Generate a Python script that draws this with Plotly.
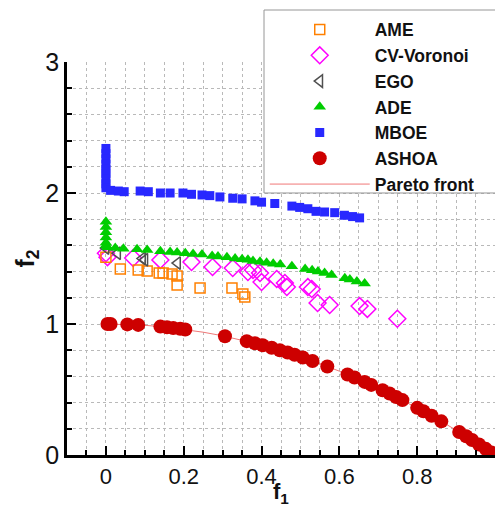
import plotly.graph_objects as go

# ---- data: objective pairs (f1, f2) per algorithm ----
ame_f1 = [0.0, 0.037, 0.083, 0.106, 0.137, 0.147, 0.17, 0.183, 0.183, 0.242, 0.324, 0.352, 0.357]
ame_f2 = [1.51, 1.42, 1.412, 1.405, 1.389, 1.389, 1.382, 1.366, 1.298, 1.275, 1.275, 1.229, 1.206]

cvv_f1 = [0.0, 0.004, 0.07, 0.14, 0.22, 0.274, 0.326, 0.365, 0.378, 0.396, 0.40, 0.439,
          0.46, 0.465, 0.519, 0.529, 0.544, 0.575, 0.652, 0.672, 0.749]
cvv_f2 = [1.54, 1.51, 1.504, 1.489, 1.473, 1.435, 1.427, 1.397, 1.412, 1.389, 1.32, 1.344,
          1.313, 1.282, 1.282, 1.267, 1.16, 1.145, 1.137, 1.115, 1.04]

ego_f1 = [0.0, 0.03, 0.094, 0.10, 0.184]
ego_f2 = [1.58, 1.54, 1.50, 1.49, 1.465]

ade_f1 = [0.0, 0.0, 0.0, 0.0, 0.0, 0.0, 0.004, 0.024, 0.045, 0.08, 0.106, 0.14, 0.165, 0.183,
          0.204, 0.224, 0.247, 0.273, 0.288, 0.311, 0.332, 0.35, 0.365, 0.378, 0.396, 0.413,
          0.43, 0.448, 0.478, 0.512, 0.53, 0.545, 0.562, 0.58, 0.614, 0.627, 0.645, 0.665]
ade_f2 = [1.78, 1.74, 1.70, 1.66, 1.62, 1.60, 1.585, 1.58, 1.575, 1.57, 1.565, 1.555, 1.55, 1.545,
          1.54, 1.535, 1.53, 1.52, 1.515, 1.51, 1.50, 1.495, 1.49, 1.48, 1.475, 1.468,
          1.46, 1.455, 1.44, 1.42, 1.41, 1.40, 1.39, 1.375, 1.35, 1.34, 1.325, 1.31]

mboe_f1 = [0.0, 0.0, 0.0, 0.0, 0.0, 0.0, 0.0, 0.0, 0.0, 0.012, 0.032, 0.047, 0.088, 0.109,
           0.14, 0.165, 0.198, 0.22, 0.247, 0.267, 0.293, 0.326, 0.35, 0.383, 0.40, 0.434,
           0.478, 0.498, 0.519, 0.54, 0.562, 0.588, 0.613, 0.634, 0.652]
mboe_f2 = [2.34, 2.30, 2.26, 2.22, 2.18, 2.15, 2.11, 2.07, 2.04, 2.02, 2.015, 2.01, 2.015, 2.01,
           2.0, 2.0, 2.0, 1.99, 1.985, 1.98, 1.97, 1.96, 1.955, 1.94, 1.93, 1.92,
           1.90, 1.89, 1.88, 1.86, 1.855, 1.85, 1.83, 1.82, 1.81]

ashoa_f1 = [0.004, 0.012, 0.055, 0.083, 0.14, 0.157, 0.173, 0.191, 0.204, 0.306, 0.362, 0.383,
            0.403, 0.426, 0.447, 0.467, 0.485, 0.506, 0.531, 0.569, 0.621, 0.639, 0.665, 0.682,
            0.711, 0.729, 0.746, 0.762, 0.80, 0.816, 0.837, 0.862, 0.908, 0.926, 0.941, 0.959,
            0.976, 0.99, 1.0]
ashoa_f2 = [1.0, 1.0, 0.997, 0.993, 0.98, 0.975, 0.97, 0.963, 0.958, 0.906, 0.869, 0.853,
            0.838, 0.819, 0.80, 0.782, 0.765, 0.744, 0.718, 0.676, 0.614, 0.592, 0.558, 0.535,
            0.494, 0.469, 0.443, 0.419, 0.36, 0.334, 0.30, 0.257, 0.176, 0.143, 0.115, 0.08,
            0.047, 0.02, 0.0]

pf_f1 = [0.0, 0.05, 0.1, 0.15, 0.2, 0.25, 0.3, 0.35, 0.4, 0.45, 0.5, 0.55, 0.6, 0.65, 0.7,
         0.75, 0.8, 0.85, 0.9, 0.95, 1.0]
pf_f2 = [1.0, 0.9975, 0.99, 0.9775, 0.96, 0.9375, 0.91, 0.8775, 0.84, 0.7975, 0.75, 0.6975,
         0.64, 0.5775, 0.51, 0.4375, 0.36, 0.2775, 0.19, 0.0975, 0.0]

FONT = "Liberation Sans, Arial"

fig = go.Figure()

fig.add_trace(go.Scatter(x=pf_f1, y=pf_f2, mode="lines", name="Pareto front",
                         line=dict(color="rgb(240,120,120)", width=1), legendrank=7))
fig.add_trace(go.Scatter(x=cvv_f1, y=cvv_f2, mode="markers", name="CV-Voronoi",
                         marker=dict(symbol="diamond-open", size=13, color="rgb(255,0,255)",
                                     line=dict(width=1.5)), legendrank=2))
fig.add_trace(go.Scatter(x=ame_f1, y=ame_f2, mode="markers", name="AME",
                         marker=dict(symbol="square-open", size=10, color="rgb(255,128,0)",
                                     line=dict(width=1.5)), legendrank=1))
fig.add_trace(go.Scatter(x=ego_f1, y=ego_f2, mode="markers", name="EGO",
                         marker=dict(symbol="triangle-left-open", size=11, color="rgb(80,80,80)",
                                     line=dict(width=1.5)), legendrank=3))
fig.add_trace(go.Scatter(x=ade_f1, y=ade_f2, mode="markers", name="ADE",
                         marker=dict(symbol="triangle-up", size=11, color="rgb(0,205,0)"),
                         legendrank=4))
fig.add_trace(go.Scatter(x=mboe_f1, y=mboe_f2, mode="markers", name="MBOE",
                         marker=dict(symbol="square", size=9, color="rgb(40,40,255)"),
                         legendrank=5))
fig.add_trace(go.Scatter(x=ashoa_f1, y=ashoa_f2, mode="markers", name="ASHOA",
                         marker=dict(symbol="circle", size=14, color="rgb(205,0,0)"),
                         legendrank=6))

grid = dict(showgrid=True, gridcolor="rgb(185,185,185)", griddash="dot", gridwidth=1)

fig.update_xaxes(range=[-0.1, 1.0], tick0=0, dtick=0.2, ticks="inside", ticklen=9,
                 tickwidth=2, tickcolor="black", showline=True, linecolor="black",
                 linewidth=2.5, mirror=False, zeroline=False,
                 tickfont=dict(family=FONT, size=22, color="#111"),
                 minor=dict(dtick=0.05, ticks="inside", ticklen=5, tickwidth=1.5,
                            tickcolor="black", **grid),
                 **grid)
fig.update_yaxes(range=[0, 3], tick0=0, dtick=1, ticks="inside", ticklen=9,
                 tickwidth=2, tickcolor="black", showline=True, linecolor="black",
                 linewidth=2.5, mirror=False, zeroline=False,
                 tickfont=dict(family=FONT, size=25, color="#111"),
                 minor=dict(dtick=0.2, ticks="inside", ticklen=5, tickwidth=1.5,
                            tickcolor="black", **grid),
                 title=dict(text="<b>f<sub>2</sub></b>", standoff=4,
                            font=dict(family=FONT, size=25, color="#111")),
                 **grid)

# x-axis title placed just under the tick labels
fig.add_annotation(text="<b>f<sub>1</sub></b>", xref="paper", yref="paper",
                   x=0.5, y=0, xanchor="center", yanchor="top", yshift=-22,
                   showarrow=False, font=dict(family=FONT, size=22, color="#111"))

# legend frame: white box that runs off the right edge of the figure
fig.add_shape(type="rect", xref="paper", yref="paper",
              x0=0.4603, x1=1.05, y0=0.6667, y1=1.1323,
              line=dict(color="rgb(150,150,150)", width=1), fillcolor="white",
              layer="above")

fig.update_layout(
    width=495, height=507,
    margin=dict(l=67, r=0, t=62, b=52, autoexpand=False),
    plot_bgcolor="white", paper_bgcolor="white",
    showlegend=True,
    legend=dict(x=0.462, y=1.128, xanchor="left", yanchor="top",
                bgcolor="rgba(0,0,0,0)", borderwidth=0,
                itemwidth=100, tracegroupgap=0,
                font=dict(family=FONT, size=17.5, color="#111"),
                traceorder="normal"),
)
fig.for_each_trace(lambda t: t.update(name="<b>" + t.name + "</b>"))

fig.write_html("out.html")
